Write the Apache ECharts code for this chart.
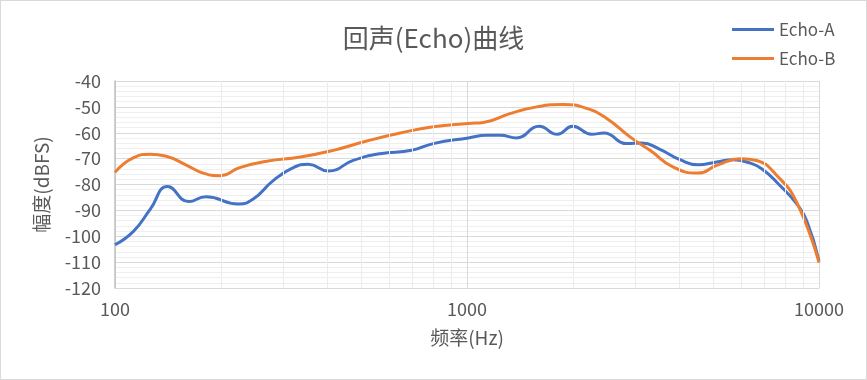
<!DOCTYPE html>
<html>
<head>
<meta charset="utf-8">
<script src="https://cdn.jsdelivr.net/npm/echarts@6/dist/echarts.min.js"></script>
<style>
html,body{margin:0;padding:0;background:#fff;}
#wrap{position:relative;width:867px;height:380px;}
#chart{width:867px;height:380px;}
#frame{position:absolute;left:0;top:0;width:867px;height:380px;box-sizing:border-box;border:1px solid #d9d9d9;pointer-events:none;}
</style>
</head>
<body>
<div id="wrap"><div id="chart"></div><div id="frame"></div></div>
<script>
const titleText = '回声(Echo)曲线';
const seriesNames = ['Echo-A', 'Echo-B'];
const xName = '频率(Hz)';
const yName = '幅度(dBFS)';

const freqA = [100,113,126,141,162,181,224,247,282,321,354,404,475,566,696,802,1009,1138,1242,1384,1602,1806,1996,2260,2449,2842,3135,3532,4027,4540,5120,5710,6226,6872,7745,8643,9226,10000];
const dbA   = [-103.3,-98,-89.5,-80.8,-86.6,-84.7,-87.5,-85.6,-78.4,-73.5,-72.2,-74.8,-70.7,-68.1,-66.8,-64.2,-62.0,-61.0,-61.0,-62.0,-57.5,-60.6,-57.5,-60.6,-60.1,-64.2,-64.0,-66.4,-70.4,-72.4,-71.3,-70.4,-71.3,-73.9,-80.4,-87.5,-94.0,-109.5];

const freqB = [100,113,126,139,160,178,199,226,270,336,417,519,646,802,1009,1113,1324,1578,1877,2188,2494,2904,3311,3857,4540,5120,6026,6653,7586,8643,10000];
const dbB   = [-75.3,-69.6,-68.3,-69.0,-72.6,-75.6,-76.6,-73.5,-71.0,-69.4,-66.8,-63.2,-60.1,-57.7,-56.4,-56.0,-52.6,-50.0,-49.1,-50.6,-54.5,-61.6,-66.8,-73.3,-75.6,-72.6,-70.0,-70.7,-76.5,-86.9,-110.2];

const minorFreqs = [200,300,400,500,600,700,800,900,2000,3000,4000,5000,6000,7000,8000,9000];

const FONT = '"Noto Sans CJK SC", "Noto Sans", sans-serif';
const TXT = '#595959';

const chart = echarts.init(document.getElementById('chart'), null, {renderer:'canvas'});
chart.setOption({
  animation: false,
  textStyle: {fontFamily: FONT},
  title: {
    text: titleText, left: 'center', top: 20,
    textStyle: {fontFamily: FONT, fontSize: 26, fontWeight: 'normal', color: TXT}
  },
  legend: {
    data: seriesNames, orient: 'vertical', left: 732, top: 21, padding: 0,
    icon: 'rect', itemWidth: 42, itemHeight: 3, itemGap: 12,
    textStyle: {fontFamily: FONT, fontSize: 17, color: TXT}
  },
  grid: {left: 115, right: 48, top: 81, bottom: 92},
  xAxis: {
    type: 'log', logBase: 10, min: 100, max: 10000,
    name: xName, nameLocation: 'middle', nameGap: 40,
    nameTextStyle: {fontFamily: FONT, fontSize: 19, color: TXT},
    axisLine: {show: true, lineStyle: {color: '#d9d9d9', width: 1}},
    axisTick: {show: false},
    axisLabel: {fontFamily: FONT, fontSize: 18, color: TXT, margin: 12, formatter: v => String(Math.round(v))},
    splitLine: {show: true, lineStyle: {color: '#d9d9d9', width: 1}}
  },
  yAxis: {
    type: 'value', min: -120, max: -40, interval: 10,
    name: yName, nameLocation: 'middle', nameGap: 64, nameRotate: 90,
    nameTextStyle: {fontFamily: FONT, fontSize: 19, color: TXT},
    axisLine: {show: true, lineStyle: {color: '#bfbfbf', width: 1.5}},
    axisTick: {show: false},
    axisLabel: {fontFamily: FONT, fontSize: 18, color: TXT, margin: 14},
    splitLine: {show: true, lineStyle: {color: '#d9d9d9', width: 1}},
    minorTick: {show: false, splitNumber: 5},
    minorSplitLine: {show: true, lineStyle: {color: '#efefef', width: 1}}
  },
  series: [
    {
      name: '_grid', type: 'line', data: [], silent: true, z: 1,
      markLine: {
        silent: true, symbol: 'none', animation: false,
        label: {show: false},
        lineStyle: {color: '#ececec', width: 1, type: 'solid'},
        emphasis: {disabled: true},
        data: minorFreqs.map(f => ({xAxis: f}))
      }
    },
    {
      name: seriesNames[0], type: 'line', z: 3,
      data: freqA.map((f, i) => [f, dbA[i]]),
      smooth: 0.5, symbol: 'none', showSymbol: false,
      lineStyle: {color: '#4472C4', width: 3},
      itemStyle: {color: '#4472C4'}
    },
    {
      name: seriesNames[1], type: 'line', z: 4,
      data: freqB.map((f, i) => [f, dbB[i]]),
      smooth: 0.5, symbol: 'none', showSymbol: false,
      lineStyle: {color: '#ED7D31', width: 3},
      itemStyle: {color: '#ED7D31'}
    }
  ]
});
</script>
</body>
</html>
